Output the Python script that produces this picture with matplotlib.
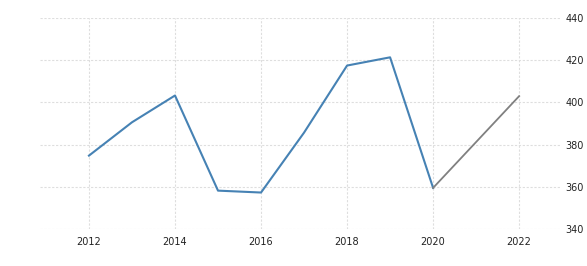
import matplotlib
matplotlib.use("Agg")
import matplotlib.pyplot as plt

# Data
years = [2012, 2013, 2014, 2015, 2016, 2017, 2018, 2019, 2020]
values = [374.8, 390.6, 403.3, 358.2, 357.3, 385.7, 417.5, 421.4, 359.5]
fc_years = [2020, 2022]
fc_values = [359.5, 403.0]
x_ticks = [2012, 2014, 2016, 2018, 2020, 2022]
y_ticks = [340, 360, 380, 400, 420, 440]

fig = plt.figure(figsize=(5.87, 2.66), dpi=100)
ax = fig.add_axes([0.068, 0.139, 0.886, 0.793])

ax.plot(years, values, color="#4682b4", linewidth=1.5)
ax.plot(fc_years, fc_values, color="#808080", linewidth=1.3)

ax.set_xlim(2010.86, 2022.95)
ax.set_ylim(340, 440)
ax.set_xticks(x_ticks)
ax.set_yticks(y_ticks)
ax.yaxis.tick_right()
ax.tick_params(axis="both", length=0, labelsize=7, colors="#222222")
ax.tick_params(axis="y", pad=4)
ax.tick_params(axis="x", pad=6)
ax.grid(True, color="#dedede", linestyle=(0, (2, 1.5)), linewidth=0.8)
for s in ax.spines.values():
    s.set_visible(False)

fig.savefig("out.png", dpi=100)
